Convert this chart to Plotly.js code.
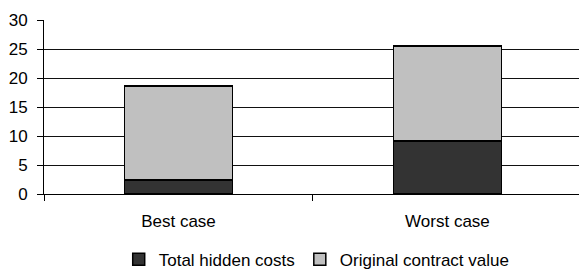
<!DOCTYPE html>
<html><head><meta charset="utf-8">
<script src="https://cdn.plot.ly/plotly-3.0.1.min.js"></script>
<style>html,body{margin:0;padding:0;background:#fff;overflow:hidden}</style>
</head><body><div id="chart" style="width:579px;height:272px"></div>
<script>
const categories = ["Best case", "Worst case"];
const hiddenCosts = [2.4, 9.1];
const contractValue = [16.2, 16.4];
const yTicks = [0, 5, 10, 15, 20, 25, 30];

const data = [
  {type: "bar", name: "Total hidden costs", x: categories, y: hiddenCosts,
   marker: {color: "#333333", line: {color: "#000", width: 1.5}}, width: 0.4},
  {type: "bar", name: "Original contract value", x: categories, y: contractValue,
   marker: {color: "#c0c0c0", line: {color: "#000", width: 1.5}}, width: 0.4}
];
const layout = {
  width: 579, height: 272, barmode: "stack",
  margin: {l: 44, r: 0, t: 20, b: 78, autoexpand: false},
  paper_bgcolor: "#fff", plot_bgcolor: "#fff",
  font: {family: "Liberation Sans, Arial, sans-serif", size: 17, color: "#000"},
  showlegend: true,
  legend: {orientation: "h", traceorder: "normal", xref: "container", x: 0.547, xanchor: "center",
           yref: "container", y: 0.045, yanchor: "middle", font: {size: 17}, itemwidth: 30,
           tracegroupgap: 0, bgcolor: "rgba(0,0,0,0)"},
  xaxis: {type: "category", range: [-0.5, 1.489], tickson: "boundaries", ticks: "outside",
          ticklen: 6, tickcolor: "#000", showline: true, linecolor: "#000", linewidth: 1,
          showgrid: false, tickfont: {size: 17}, ticklabelstandoff: 12, automargin: false},
  yaxis: {range: [0, 30], tickvals: yTicks, ticks: "outside", ticklen: 6, tickcolor: "#000",
          showline: true, linecolor: "#000", linewidth: 1, showgrid: true, gridcolor: "#111",
          gridwidth: 1, zeroline: false, tickfont: {size: 17}, ticklabelstandoff: 6, automargin: false}
};
Plotly.newPlot("chart", data, layout, {displayModeBar: false, staticPlot: true});
</script></body></html>
